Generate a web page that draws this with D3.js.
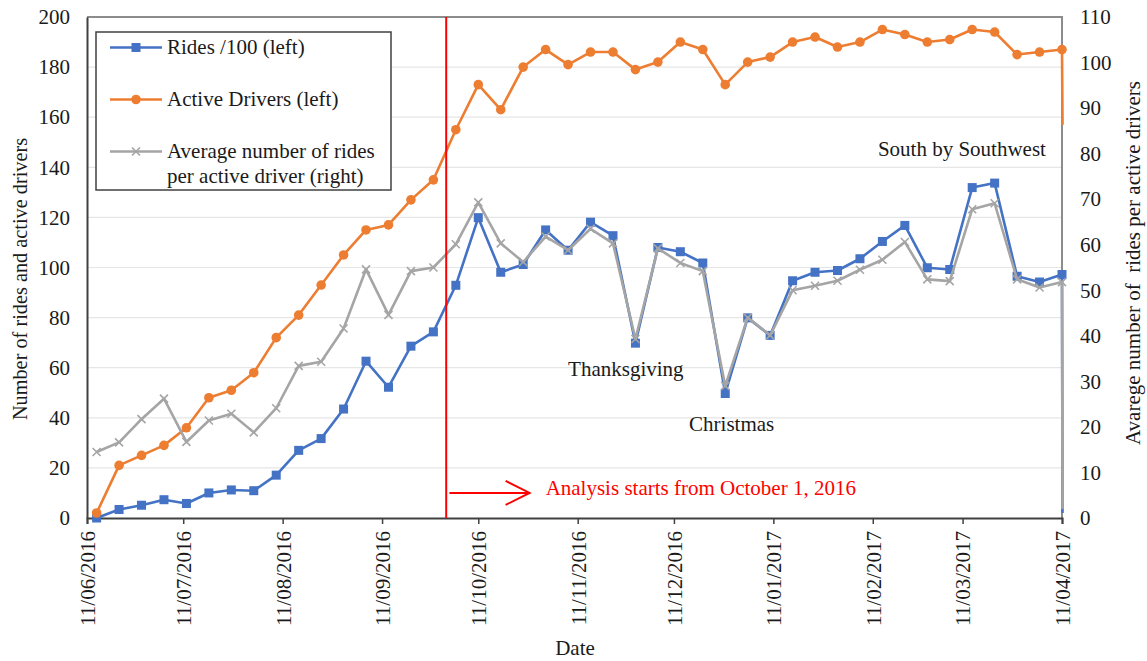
<!DOCTYPE html>
<html>
<head>
<meta charset="utf-8">
<script src="https://cdn.jsdelivr.net/npm/d3@7"></script>
<style>
  html, body { margin: 0; padding: 0; background: #fff; }
  svg { display: block; font-family: "Liberation Serif", "Times New Roman", serif; }
</style>
</head>
<body>
<svg id="chart" width="1147" height="661"></svg>
<script>
// ---------------- data ----------------
const weekDates = [
  "2016-06-14","2016-06-21","2016-06-28","2016-07-05","2016-07-12","2016-07-19","2016-07-26",
  "2016-08-02","2016-08-09","2016-08-16","2016-08-23","2016-08-30","2016-09-06","2016-09-13",
  "2016-09-20","2016-09-27","2016-10-04","2016-10-11","2016-10-18","2016-10-25","2016-11-01",
  "2016-11-08","2016-11-15","2016-11-22","2016-11-29","2016-12-06","2016-12-13","2016-12-20",
  "2016-12-27","2017-01-03","2017-01-10","2017-01-17","2017-01-24","2017-01-31","2017-02-07",
  "2017-02-14","2017-02-21","2017-02-28","2017-03-07","2017-03-14","2017-03-21","2017-03-28",
  "2017-04-04","2017-04-11"
];
const ridesPer100 = [0, 3.4, 5.1, 7.3, 5.8, 10, 11.2, 10.9, 17.1, 27, 31.7, 43.5, 62.6, 52.2, 68.6, 74.3,
  92.9, 119.9, 98.1, 101.2, 115, 106.9, 118.1, 112.7, 69.8, 108, 106.3, 101.8, 49.7, 79.9, 72.9, 94.7,
  98.1, 98.8, 103.5, 110.4, 116.8, 99.9, 99.2, 131.9, 133.7, 96.5, 94.2, 97.2];
const activeDrivers = [2, 21, 25, 29, 36, 48, 51, 58, 72, 81, 93, 105, 115, 117, 127, 135, 155, 173,
  163, 180, 187, 181, 186, 186, 179, 182, 190, 187, 173, 182, 184, 190, 192, 188,
  190, 195, 193, 190, 191, 195, 194, 185, 186, 187];
const avgRidesPerDriver = [14.5, 16.6, 21.7, 26.2, 16.7, 21.4, 22.9, 18.8, 24.1, 33.4, 34.3, 41.6, 54.6,
  44.6, 54.2, 55, 60.1, 69.3, 60.3, 56.2, 61.8, 58.8, 63.5, 60.3, 39.3, 59.2, 56, 54.2, 29, 44, 40.1, 50,
  51, 52.1, 54.5, 56.7, 60.6, 52.4, 52, 67.8, 69.1, 52.4, 50.6, 51.8];
// trailing partial-period record (drawn as line only, no marker)
const partialDate = "2017-04-11T04:00";
const partialRides = 2;
const partialDrivers = 157;
const partialAvg = 2;

const xDomain = ["2016-06-11", "2017-04-11"];
const xTickDates = ["2016-06-11","2016-07-11","2016-08-11","2016-09-11","2016-10-11","2016-11-11",
  "2016-12-11","2017-01-11","2017-02-11","2017-03-11","2017-04-11"];
const leftTicks = [0, 20, 40, 60, 80, 100, 120, 140, 160, 180, 200];
const rightTicks = [0, 10, 20, 30, 40, 50, 60, 70, 80, 90, 100, 110];

const analysisStart = "2016-10-01";
const arrowFrom = { date: "2016-10-02", value: 10 };
const arrowTo = { date: "2016-10-27", value: 10 };
const arrowText = { text: "Analysis starts from October 1, 2016", date: "2016-11-01", value: 9.2 };
const annotations = [
  { text: "Thanksgiving", date: "2016-11-26", value: 56.7, anchor: "middle" },
  { text: "Christmas", date: "2016-12-29", value: 34.7, anchor: "middle" },
  { text: "South by Southwest", date: "2017-04-06", value: 144.5, anchor: "end" }
];

// ---------------- setup ----------------
const parse = s => new Date(s.length > 10 ? s + "Z" : s + "T00:00Z");
const L = 87, R = 1062, T = 17, B = 518;
const FONT = 21;
const svg = d3.select("#chart");

const x = d3.scaleUtc().domain(xDomain.map(parse)).range([L, R]);
const yL = d3.scaleLinear().domain([0, 200]).range([B, T]);
const yR = d3.scaleLinear().domain([0, 110]).range([B, T]);

const blue = "#4472C4", orange = "#ED7D31", gray = "#A5A5A5", red = "#FF0000";

// gridlines
svg.append("g").selectAll("line").data(leftTicks.filter(v => v > 0 && v < 200)).join("line")
  .attr("x1", L).attr("x2", R).attr("y1", d => yL(d)).attr("y2", d => yL(d))
  .attr("stroke", "#e6e6e6").attr("stroke-width", 1.2);

// plot frame (top/right)
svg.append("path")
  .attr("d", `M${L},${T}H${R}V${B}`)
  .attr("fill", "none").attr("stroke", "#8c8c8c").attr("stroke-width", 2);

// left axis
const gL = svg.append("g").attr("transform", `translate(${L},0)`)
  .call(d3.axisLeft(yL).tickValues(leftTicks).tickSize(0).tickPadding(17).tickFormat(d3.format("d")));
gL.select(".domain").attr("stroke", "#404040").attr("stroke-width", 2);
gL.selectAll("text").attr("font-size", FONT).attr("fill", "#1a1a1a").attr("font-family", "Liberation Serif");

// right axis
const gR = svg.append("g").attr("transform", `translate(${R},0)`)
  .call(d3.axisRight(yR).tickValues(rightTicks).tickSize(0).tickPadding(18).tickFormat(d3.format("d")));
gR.select(".domain").remove();
gR.selectAll("text").attr("font-size", FONT).attr("fill", "#1a1a1a").attr("font-family", "Liberation Serif");

// x axis
const gX = svg.append("g").attr("transform", `translate(0,${B})`)
  .call(d3.axisBottom(x).tickValues(xTickDates.map(parse)).tickSize(6).tickFormat(d3.utcFormat("%d/%m/%Y")));
gX.select(".domain").attr("stroke", "#404040").attr("stroke-width", 2);
gX.selectAll(".tick line").attr("stroke", "#404040").attr("stroke-width", 1.5);
gX.selectAll("text")
  .attr("font-size", FONT).attr("fill", "#1a1a1a").attr("font-family", "Liberation Serif")
  .attr("transform", "rotate(-90)")
  .attr("text-anchor", "end")
  .attr("x", -13).attr("y", 0).attr("dy", "0.35em");

// axis titles
svg.append("text").attr("transform", `translate(27,279) rotate(-90)`)
  .attr("text-anchor", "middle").attr("font-size", 20.3).attr("fill", "#1a1a1a")
  .text("Number of rides and active drivers");
svg.append("text").attr("transform", `translate(1140,263) rotate(-90)`)
  .attr("text-anchor", "middle").attr("font-size", FONT).attr("fill", "#1a1a1a")
  .attr("xml:space", "preserve").style("white-space", "pre")
  .text("Avarege number of  rides per active drivers");
svg.append("text").attr("x", 575).attr("y", 655)
  .attr("text-anchor", "middle").attr("font-size", FONT).attr("fill", "#1a1a1a").text("Date");

// ---------------- series ----------------
const dates = weekDates.map(parse);
const ridesData = dates.map((d, i) => ({ date: d, v: ridesPer100[i] }));
const driversData = dates.map((d, i) => ({ date: d, v: activeDrivers[i] }));
const avgData = dates.map((d, i) => ({ date: d, v: avgRidesPerDriver[i] }));
const pd = parse(partialDate);

const lineL = d3.line().x(d => x(d.date)).y(d => yL(d.v));
const lineR = d3.line().x(d => x(d.date)).y(d => yR(d.v));

// rides (blue)
svg.append("path").datum(ridesData.concat([{ date: pd, v: partialRides }]))
  .attr("d", lineL).attr("fill", "none").attr("stroke", blue).attr("stroke-width", 2.6)
  .attr("stroke-linejoin", "round");
svg.append("g").selectAll("rect").data(ridesData).join("rect")
  .attr("x", d => x(d.date) - 4.5).attr("y", d => yL(d.v) - 4.5)
  .attr("width", 9).attr("height", 9).attr("fill", blue);

// drivers (orange)
svg.append("path").datum(driversData.concat([{ date: pd, v: partialDrivers }]))
  .attr("d", lineL).attr("fill", "none").attr("stroke", orange).attr("stroke-width", 2.6)
  .attr("stroke-linejoin", "round");
svg.append("g").selectAll("circle").data(driversData).join("circle")
  .attr("cx", d => x(d.date)).attr("cy", d => yL(d.v)).attr("r", 4.8).attr("fill", orange);

// average (gray, right axis)
svg.append("path").datum(avgData.concat([{ date: pd, v: partialAvg }]))
  .attr("d", lineR).attr("fill", "none").attr("stroke", gray).attr("stroke-width", 2.6)
  .attr("stroke-linejoin", "round");
svg.append("g").selectAll("path").data(avgData).join("path")
  .attr("d", d => { const cx = x(d.date), cy = yR(d.v), s = 4; return `M${cx-s},${cy-s}L${cx+s},${cy+s}M${cx-s},${cy+s}L${cx+s},${cy-s}`; })
  .attr("stroke", gray).attr("stroke-width", 1.6).attr("fill", "none");

// ---------------- annotations ----------------
svg.append("line")
  .attr("x1", x(parse(analysisStart))).attr("x2", x(parse(analysisStart)))
  .attr("y1", T).attr("y2", B).attr("stroke", red).attr("stroke-width", 2);

const ax1 = x(parse(arrowFrom.date)), ay = yL(arrowFrom.value), ax2 = x(parse(arrowTo.date));
svg.append("path")
  .attr("d", `M${ax1},${ay}H${ax2}M${ax2 - 24},${ay - 12}L${ax2},${ay}L${ax2 - 24},${ay + 12}`)
  .attr("stroke", red).attr("stroke-width", 2).attr("fill", "none");
svg.append("text").attr("x", x(parse(arrowText.date))).attr("y", yL(arrowText.value))
  .attr("font-size", FONT).attr("fill", red).text(arrowText.text);

svg.append("g").selectAll("text").data(annotations).join("text")
  .attr("x", d => x(parse(d.date))).attr("y", d => yL(d.value))
  .attr("text-anchor", d => d.anchor).attr("font-size", FONT).attr("fill", "#1a1a1a")
  .text(d => d.text);

// ---------------- legend ----------------
const lg = svg.append("g");
lg.append("rect").attr("x", 96).attr("y", 32).attr("width", 295).attr("height", 158)
  .attr("fill", "#fff").attr("stroke", "#404040").attr("stroke-width", 1.5);
const legendItems = [
  { label: ["Rides /100 (left)"], color: blue, shape: "square", y: 47.5 },
  { label: ["Active Drivers (left)"], color: orange, shape: "circle", y: 99.5 },
  { label: ["Average number of rides", "per active driver (right)"], color: gray, shape: "x", y: 151.5 }
];
legendItems.forEach(it => {
  lg.append("line").attr("x1", 110).attr("x2", 162).attr("y1", it.y).attr("y2", it.y)
    .attr("stroke", it.color).attr("stroke-width", 2.6);
  const cx = 136;
  if (it.shape === "square") lg.append("rect").attr("x", cx - 4.5).attr("y", it.y - 4.5).attr("width", 9).attr("height", 9).attr("fill", it.color);
  else if (it.shape === "circle") lg.append("circle").attr("cx", cx).attr("cy", it.y).attr("r", 4.8).attr("fill", it.color);
  else lg.append("path").attr("d", `M${cx-4},${it.y-4}L${cx+4},${it.y+4}M${cx-4},${it.y+4}L${cx+4},${it.y-4}`).attr("stroke", it.color).attr("stroke-width", 1.6);
  const t = lg.append("text").attr("x", 167).attr("y", it.y + 6.5).attr("font-size", FONT).attr("fill", "#1a1a1a");
  it.label.forEach((s, i) => t.append("tspan").attr("x", 167).attr("dy", i === 0 ? 0 : 25).text(s));
});
</script>
</body>
</html>
